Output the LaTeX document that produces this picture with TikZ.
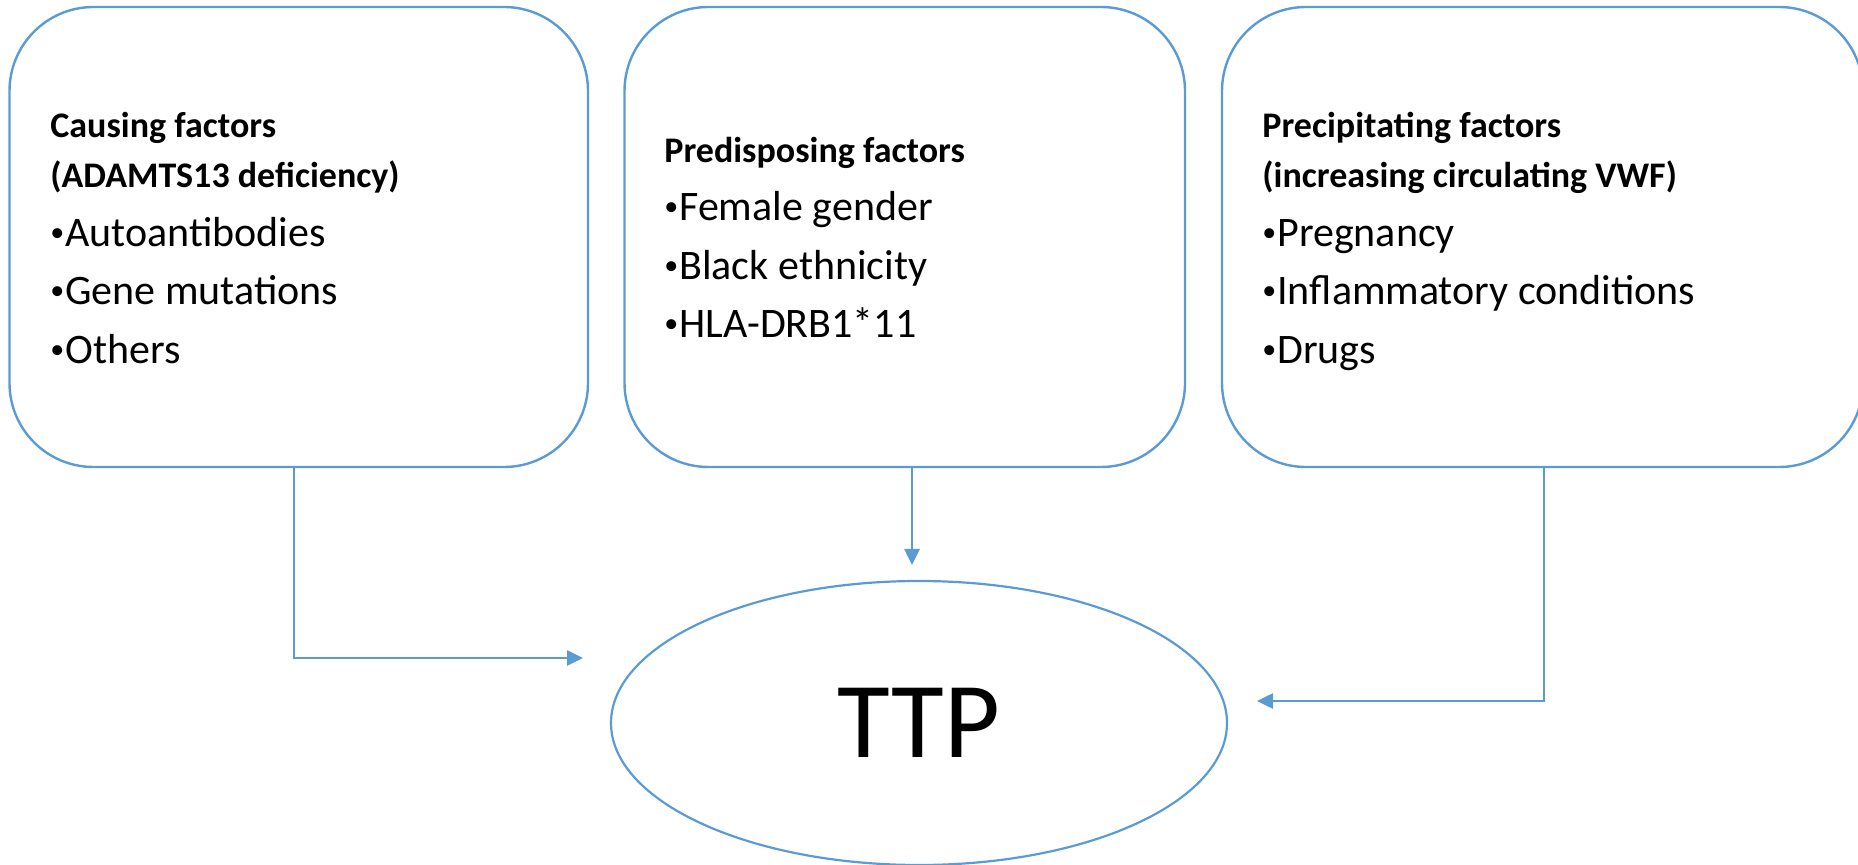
\documentclass[tikz,border=0pt]{standalone}
\usepackage{fontspec}
\setmainfont{Carlito}
\usetikzlibrary{shapes.geometric,arrows.meta}
\definecolor{lineblue}{HTML}{5B9BD5}
\newcommand{\smbul}{\raisebox{2.6pt}{\fontsize{14pt}{14pt}\selectfont •}\hspace{0.5pt}}
\tikzset{
  factorbox/.style={draw=lineblue, line width=1.2pt, rounded corners=42pt, inner sep=0pt, minimum height=230pt},
  headtext/.style={anchor=base west, inner sep=0pt, font=\fontsize{18pt}{22pt}\selectfont\bfseries},
  itemtext/.style={anchor=base west, inner sep=0pt, font=\fontsize{21pt}{25pt}\selectfont},
  conn/.style={draw=lineblue, line width=1.3pt, -{Triangle[length=8pt,width=7.5pt]}},
  ttpnode/.style={ellipse, draw=lineblue, line width=1.1pt, inner sep=0pt, minimum width=308pt, minimum height=142pt, font=\fontsize{54pt}{60pt}\selectfont}
}
\begin{document}
\begin{tikzpicture}[x=0.5pt,y=-0.5pt]
\useasboundingbox (0,0) rectangle (1858,865);
% boxes
\node[factorbox, minimum width=289.25pt] (b1) at (298.75,237) {};
\node[factorbox, minimum width=280.25pt] (b2) at (904.75,237) {};
\node[factorbox, minimum width=320.5pt] (b3) at (1542.5,237) {};
% box 1 text
\node[headtext] (h1a) at (50,138) {Causing factors};
\node[headtext] (h1b) at (50,188) {(ADAMTS13 deficiency)};
\node[itemtext] (i1a) at (50,247) {\smbul Autoantibodies};
\node[itemtext] (i1b) at (50,305) {\smbul Gene mutations};
\node[itemtext] (i1c) at (50,364) {\smbul Others};
% box 2 text
\node[headtext] (h2a) at (664,163) {Predisposing factors};
\node[itemtext] (i2a) at (664,221) {\smbul Female gender};
\node[itemtext] (i2b) at (664,280) {\smbul Black ethnicity};
\node[itemtext] (i2c) at (664,338) {\smbul HLA-DRB1*11};
% box 3 text
\node[headtext] (h3a) at (1262,138) {Precipitating factors};
\node[headtext] (h3b) at (1262,188) {(increasing circulating VWF)};
\node[itemtext] (i3a) at (1262,247) {\smbul Pregnancy};
\node[itemtext] (i3b) at (1262,305) {\smbul Inflammatory conditions};
\node[itemtext] (i3c) at (1262,364) {\smbul Drugs};
% TTP
\node[ttpnode] (ttp) at (919,723) {TTP};
% connector coordinates
\coordinate (c1) at (294,658);
\coordinate (e1) at (583,658);
\coordinate (c2) at (912,565);
\coordinate (c3) at (1544,701);
\coordinate (e3) at (1257,701);
% connectors
\draw[conn] (b1.south -| c1) |- (e1);
\draw[conn] (b2.south -| c2) -- (c2);
\draw[conn] (b3.south -| c3) |- (e3);
\end{tikzpicture}
\end{document}
